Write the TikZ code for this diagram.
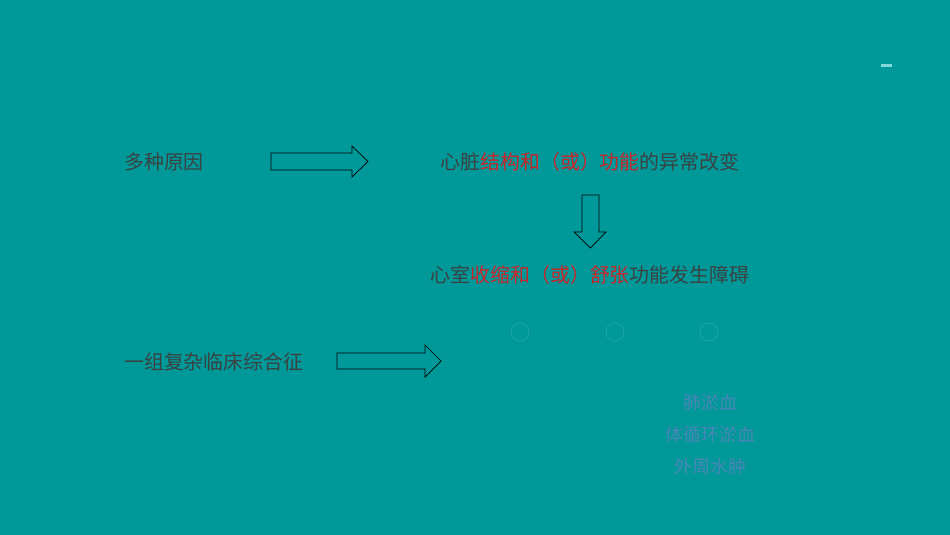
\documentclass[tikz,border=0pt]{standalone}
\usepackage{fontspec}
\setmainfont{Noto Sans CJK SC}
\definecolor{bgteal}{RGB}{0,152,152}
\definecolor{txtdark}{RGB}{58,66,66}
\definecolor{txtred}{RGB}{200,38,42}
\definecolor{txtblue}{RGB}{74,134,184}
\definecolor{ringteal}{RGB}{50,175,175}
\definecolor{dashcyan}{RGB}{130,215,215}
\newcommand{\rd}[1]{\textcolor{txtred}{#1}}
\tikzset{
  lbl/.style={text=txtdark, font=\fontsize{19.9}{22}\selectfont, inner sep=0pt},
  sub/.style={text=txtblue, font=\fontsize{18}{21}\selectfont, inner sep=0pt},
  blockarrow/.style={draw=black, line width=0.7pt, line join=miter},
  ring/.style={draw=ringteal, line width=0.4pt}
}
\begin{document}
\begin{tikzpicture}[x=1pt, y=-1pt]
\fill[bgteal] (0,0) rectangle (950,535);
\useasboundingbox (0,0) rectangle (950,535);
\draw[dashcyan, line width=3pt] (881,66) -- (892,66);
\node[lbl, anchor=west] (P_0_0) at (124,162) {多种原因};
\node[lbl] (P_1_0) at (590,162) {心脏\rd{结构和（或）功能}的异常改变};
\node[lbl] (P_1_1) at (590,275) {心室\rd{收缩和（或）舒张}功能发生障碍};
\node[lbl, anchor=west] (P_0_2) at (124,362) {一组复杂临床综合征};
\draw[blockarrow] (271,153) -- (352,153) -- (352,146) -- (368,161.5) -- (352,177) -- (352,170) -- (271,170) -- cycle;
\draw[blockarrow] (582,195) -- (599,195) -- (599,232) -- (606,232) -- (590.5,248) -- (574,232) -- (582,232) -- cycle;
\draw[blockarrow] (337,353) -- (425,353) -- (425,345) -- (441,361) -- (425,377) -- (425,369) -- (337,369) -- cycle;
\foreach \cx in {520,615,709}
  \draw[ring] (\cx,332) circle (9);
\node[sub] (P_2_0) at (710,403) {肺淤血};
\node[sub] (P_2_1) at (710,435) {体循环淤血};
\node[sub] (P_2_2) at (710,467) {外周水肿};
\end{tikzpicture}
\end{document}
